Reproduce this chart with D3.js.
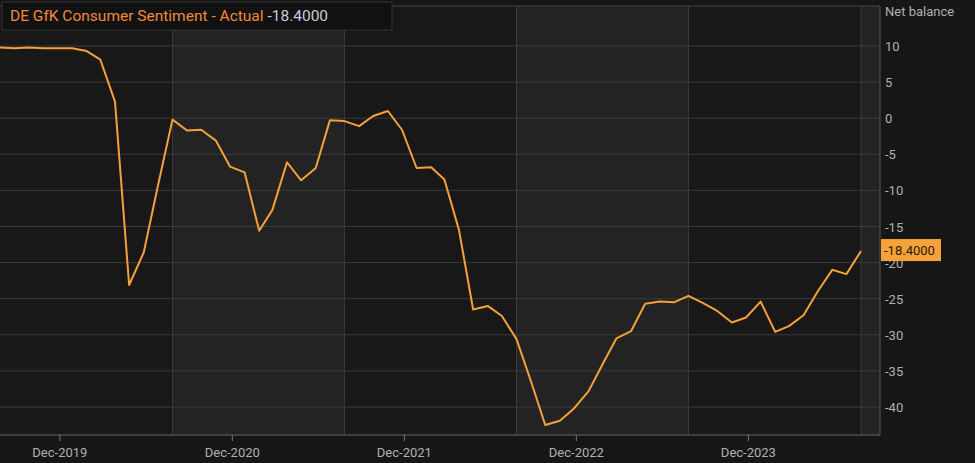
<!DOCTYPE html>
<html><head><meta charset="utf-8">
<script src="https://cdn.jsdelivr.net/npm/d3@7"></script>
<style>body{margin:0;background:#161616;font-family:Roboto,Arial,sans-serif}</style>
</head><body><svg id="c" width="975" height="463"></svg>
<script>
const startMonth = "2019-08";
const values = [9.8,9.7,9.8,9.7,9.7,9.7,9.3,8.1,2.3,-23.1,-18.6,-9.4,-0.2,-1.7,-1.6,-3.1,-6.7,-7.5,-15.6,-12.7,-6.1,-8.6,-6.9,-0.3,-0.4,-1.1,0.3,1.0,-1.6,-6.9,-6.8,-8.5,-15.5,-26.5,-26.0,-27.4,-30.6,-36.5,-42.5,-41.9,-40.2,-37.8,-33.9,-30.5,-29.5,-25.7,-25.4,-25.5,-24.6,-25.6,-26.7,-28.3,-27.6,-25.4,-29.6,-28.8,-27.3,-24.0,-21.0,-21.6,-18.4];
const yTicks = [10,5,0,-5,-10,-15,-20,-25,-30,-35,-40];
const xTickLabels = ["Dec-2019","Dec-2020","Dec-2021","Dec-2022","Dec-2023"];
const title = "DE GfK Consumer Sentiment - Actual";

const svg = d3.select("#c");
const [sy, sm] = startMonth.split("-").map(Number);
const dates = values.map((v,i)=>new Date(sy, sm-1+i, 1));
const x = d3.scaleTime().domain([dates[0], dates[dates.length-1]]).range([0, 861]);
const y = d3.scaleLinear().domain([10,-40]).range([46,407]);
const L=0,R=880,T=6,B=435;
svg.append("rect").attr("x",L).attr("y",T).attr("width",R-L).attr("height",B-T).attr("fill","#181818");
// shaded bands (Aug-Aug alternate years)
[[2020,2021],[2022,2023],[2024,2025]].forEach(([a,b])=>{
  const x0=x(new Date(a,7,1)), x1=Math.min(R,x(new Date(b,7,1)));
  svg.append("rect").attr("x",x0).attr("y",T).attr("width",x1-x0).attr("height",B-T).attr("fill","#232323");
});
// horizontal grid
svg.selectAll(".hg").data(yTicks).join("line").attr("x1",L).attr("x2",R)
  .attr("y1",d=>y(d)).attr("y2",d=>y(d)).attr("stroke","#3a3a3a").attr("stroke-width",1);
// vertical grid
[2020,2021,2022,2023,2024].forEach(yr=>{
  const xv=x(new Date(yr,7,1));
  svg.append("line").attr("x1",xv).attr("x2",xv).attr("y1",T).attr("y2",B).attr("stroke","#3a3a3a");
});
svg.append("line").attr("x1",L).attr("x2",R).attr("y1",T).attr("y2",T).attr("stroke","#444");
svg.append("line").attr("x1",R).attr("x2",R).attr("y1",T).attr("y2",B).attr("stroke","#555");
svg.append("line").attr("x1",L).attr("x2",R).attr("y1",B).attr("y2",B).attr("stroke","#666");
// y axis labels
svg.selectAll(".yl").data(yTicks).join("text").attr("x",885).attr("y",d=>y(d)+5)
  .attr("fill","#b0b0b0").attr("font-size",13).text(d=>d);
svg.append("text").attr("x",885).attr("y",16).attr("fill","#b0b0b0").attr("font-size",13).text("Net balance");
// x ticks
xTickLabels.forEach((t,i)=>{
  const xv=x(new Date(2019+i,11,6));
  svg.append("line").attr("x1",xv).attr("x2",xv).attr("y1",B).attr("y2",B+6).attr("stroke","#777");
  svg.append("text").attr("x",xv).attr("y",B+22).attr("text-anchor","middle").attr("fill","#b0b0b0").attr("font-size",13).text(t);
});
// line
svg.append("path").datum(values).attr("fill","none").attr("stroke","#f5a03a").attr("stroke-width",2)
  .attr("stroke-linejoin","round")
  .attr("d",d3.line().x((d,i)=>x(dates[i])).y(d=>y(d)));
// last value badge
const last=values[values.length-1];
svg.append("rect").attr("x",881).attr("y",y(last)-12).attr("width",60).attr("height",22).attr("fill","#f7a13a");
svg.append("text").attr("x",884).attr("y",y(last)+4).attr("fill","#2a1a05").attr("font-size",13).text(last.toFixed(4));
// legend
const lg=svg.append("g");
lg.append("rect").attr("x",2).attr("y",2).attr("width",390).attr("height",28).attr("fill","#111").attr("stroke","#333");
const tx=lg.append("text").attr("x",10).attr("y",21).attr("font-size",15.5);
tx.append("tspan").attr("fill","#f08a3a").text(title+" ");
tx.append("tspan").attr("fill","#c8ccd8").text(last.toFixed(4));
</script></body></html>
